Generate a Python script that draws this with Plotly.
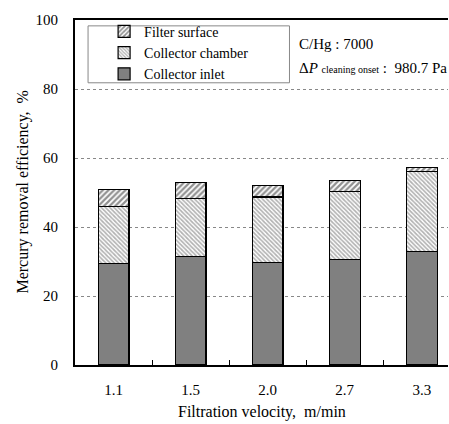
import plotly.graph_objects as go

categories = ["1.1", "1.5", "2.0", "2.7", "3.3"]
collector_inlet = [29.5, 31.5, 29.7, 30.5, 32.8]
collector_chamber = [16.5, 16.8, 19.0, 19.9, 23.3]
filter_surface = [4.8, 4.5, 3.3, 3.1, 1.1]
y_ticks = [0, 20, 40, 60, 80, 100]

xpos = list(range(len(categories)))
font = "Liberation Serif"

fig = go.Figure()
fig.add_trace(go.Bar(
    x=xpos, y=collector_inlet, name="Collector inlet", width=0.4,
    marker=dict(color="#808080", line=dict(color="black", width=1.2)),
))
fig.add_trace(go.Bar(
    x=xpos, y=collector_chamber, name="Collector chamber", width=0.4,
    marker=dict(color="white", line=dict(color="black", width=1.2),
                pattern=dict(shape="\\", fgcolor="#666666", bgcolor="white",
                             size=3, solidity=0.55)),
))
fig.add_trace(go.Bar(
    x=xpos, y=filter_surface, name="Filter surface", width=0.4,
    marker=dict(color="white", line=dict(color="black", width=1.2),
                pattern=dict(shape="/", fgcolor="#222222", bgcolor="white",
                             size=4, solidity=0.55)),
))

fig.add_shape(type="rect", xref="paper", yref="paper",
              x0=0.035, x1=0.575, y0=0.818, y1=0.983,
              line=dict(color="#888888", width=1), fillcolor="white", layer="below")

fig.add_annotation(xref="paper", yref="paper", x=0.595, y=0.93, xanchor="left",
                   yanchor="middle", showarrow=False,
                   text="C/Hg : 7000", font=dict(family=font, size=15, color="black"))
fig.add_annotation(xref="paper", yref="paper", x=0.595, y=0.862, xanchor="left",
                   yanchor="middle", showarrow=False,
                   text="Δ<i>P</i> <span style='font-size:10px'>cleaning onset</span> :  980.7 Pa",
                   font=dict(family=font, size=15, color="black"))

fig.add_annotation(xref="paper", yref="paper", x=0.5, y=-0.136, xanchor="center",
                   yanchor="middle", showarrow=False,
                   text="Filtration velocity,  m/min",
                   font=dict(family=font, size=16, color="black"))
fig.add_annotation(xref="paper", yref="paper", x=-0.142, y=0.5, xanchor="center",
                   yanchor="middle", showarrow=False, textangle=-90,
                   text="Mercury removal efficiency,  %",
                   font=dict(family=font, size=16, color="black"))

fig.update_layout(
    width=449, height=424,
    margin=dict(l=75, r=1, t=20, b=59, autoexpand=False),
    barmode="stack",
    plot_bgcolor="white", paper_bgcolor="white",
    font=dict(family=font, size=15, color="black"),
    showlegend=True,
    legend=dict(x=0.078, y=1.012, xanchor="left", yanchor="top",
                traceorder="reversed", bgcolor="rgba(0,0,0,0)",
                borderwidth=0, font=dict(family=font, size=14),
                itemwidth=30, tracegroupgap=0),
    xaxis=dict(
        range=[-0.5, 4.34], tickmode="array", tickvals=xpos, ticktext=categories,
        ticks="", showline=True, linecolor="black", linewidth=2, mirror=True,
        showgrid=False, zeroline=False, ticklabelstandoff=10, automargin=False,
        tickfont=dict(size=15),
        minor=dict(tickmode="array", tickvals=[0.5, 1.5, 2.5, 3.5], ticks="inside",
                   ticklen=5, tickcolor="black", tickwidth=1, showgrid=False),
    ),
    yaxis=dict(
        range=[0, 100], tickmode="array", tickvals=y_ticks, ticks="",
        showline=True, linecolor="black", linewidth=2, mirror=False,
        showgrid=True, gridcolor="#888888", griddash="dot", gridwidth=1,
        zeroline=False, tickfont=dict(size=15), ticklabelstandoff=12, automargin=False,
    ),
)

fig.write_html("out.html", config={"displayModeBar": False},
               post_script="document.body.style.margin='0';")
